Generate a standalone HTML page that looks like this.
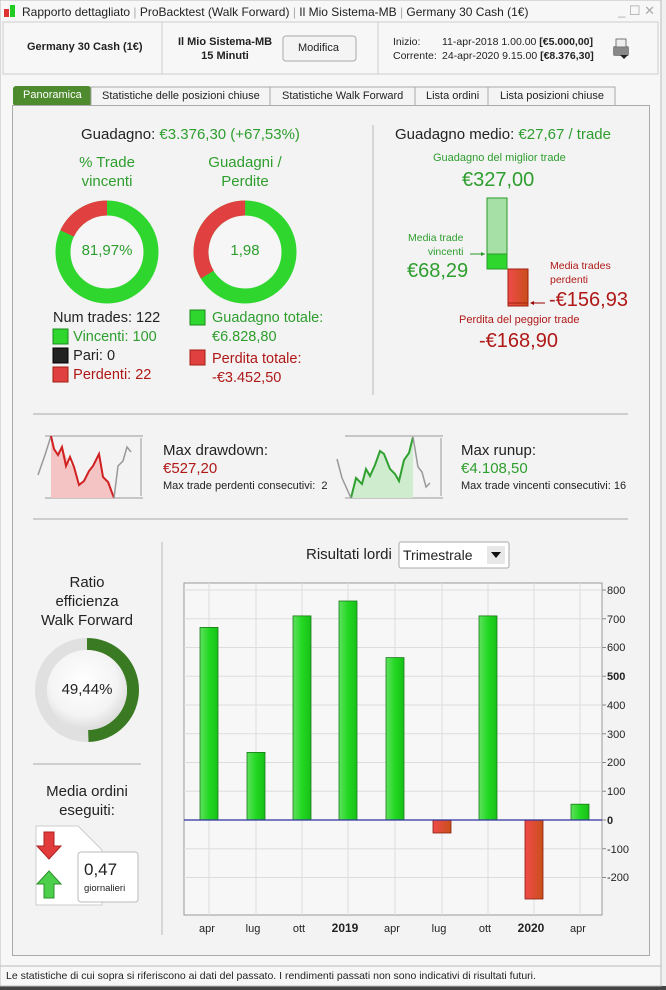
<!DOCTYPE html>
<html><head><meta charset="utf-8">
<style>
*{margin:0;padding:0;box-sizing:border-box}
body{width:666px;height:990px;background:#f0f0f0;font-family:"Liberation Sans",sans-serif;position:relative;overflow:hidden;color:#222}
.a{position:absolute;white-space:nowrap}
.c{text-align:center}
.g{color:#2e9e2e}.r{color:#b01818}
svg{position:absolute;left:0;top:0}
</style></head><body>
<svg width="666" height="990" viewBox="0 0 666 990">
<defs>
<linearGradient id="gb" x1="0" x2="1"><stop offset="0" stop-color="#5fe05f"/><stop offset="0.5" stop-color="#22d822"/><stop offset="1" stop-color="#18c018"/></linearGradient>
<linearGradient id="rb" x1="0" x2="1"><stop offset="0" stop-color="#f04a4a"/><stop offset="1" stop-color="#c8501a"/></linearGradient>
<radialGradient id="wf" cx="0.45" cy="0.4" r="0.6"><stop offset="0" stop-color="#fff"/><stop offset="0.7" stop-color="#f4f4f4"/><stop offset="1" stop-color="#ddd"/></radialGradient>
</defs>
<rect x="0" y="0" width="666" height="990" fill="#f0f0f0"/>
<rect x="0" y="0" width="661" height="986" fill="#f7f7f7" stroke="#bbb"/>
<rect x="0" y="986" width="666" height="4" fill="#444"/>
<rect x="4" y="9" width="5" height="8" fill="#d33"/><rect x="10" y="5" width="5" height="12" fill="#2c2"/>
<rect x="3" y="22" width="655" height="52" fill="#f7f7f7" stroke="#ccc"/>
<line x1="162" y1="22" x2="162" y2="74" stroke="#ccc"/>
<line x1="378" y1="22" x2="378" y2="74" stroke="#ccc"/>
<rect x="283" y="36" width="73" height="25" rx="3" fill="#f4f4f4" stroke="#aaa"/>
<rect x="613" y="46" width="16" height="10" rx="2" fill="#888"/><rect x="616" y="39" width="10" height="8" fill="#eee" stroke="#777"/><path d="M620 55h8l-4 4z" fill="#222"/>
<rect x="13" y="86" width="78" height="20" rx="3" fill="#4e8a2e"/>
<rect x="91" y="87" width="179" height="19" fill="#f4f4f4" stroke="#aaa"/>
<rect x="270" y="87" width="145" height="19" fill="#f4f4f4" stroke="#aaa"/>
<rect x="415" y="87" width="73" height="19" fill="#f4f4f4" stroke="#aaa"/>
<rect x="488" y="87" width="127" height="19" fill="#f4f4f4" stroke="#aaa"/>
<rect x="12.5" y="105.5" width="637" height="850" fill="#f3f3f3" stroke="#aaa"/>
<line x1="373" y1="125" x2="373" y2="395" stroke="#bbb"/>
<line x1="33" y1="414" x2="628" y2="414" stroke="#aaa"/>
<line x1="33" y1="519" x2="628" y2="519" stroke="#aaa"/>
<line x1="162" y1="542" x2="162" y2="935" stroke="#bbb"/>
<line x1="33" y1="764" x2="141" y2="764" stroke="#aaa"/>
<rect x="0" y="966" width="661" height="20" fill="#f7f7f7" stroke="#bbb"/>
<circle cx="107" cy="252" r="44" fill="none" stroke="#2ed62e" stroke-width="15"/>
<circle cx="107" cy="252" r="44" fill="none" stroke="#e04040" stroke-width="15" stroke-dasharray="49.8 300" transform="rotate(-155 107 252)"/>
<circle cx="107" cy="252" r="36" fill="#f6f6f6"/>
<circle cx="245" cy="252" r="44" fill="none" stroke="#2ed62e" stroke-width="15"/>
<circle cx="245" cy="252" r="44" fill="none" stroke="#e04040" stroke-width="15" stroke-dasharray="92.9 300" transform="rotate(-211 245 252)"/>
<circle cx="245" cy="252" r="36" fill="#f6f6f6"/>
<rect x="53" y="329" width="15" height="15" fill="#2ed62e" stroke="#1a8a1a"/>
<rect x="53" y="348" width="15" height="15" fill="#222" stroke="#000"/>
<rect x="53" y="367" width="15" height="15" fill="#e04040" stroke="#a02010"/>
<rect x="190" y="310" width="15" height="15" fill="#2ed62e" stroke="#1a8a1a"/>
<rect x="190" y="350" width="15" height="15" fill="#e04040" stroke="#a02010"/>
<rect x="487" y="198" width="20" height="71" fill="#a6e0a6" stroke="#2a9a2a"/>
<rect x="487" y="254" width="20" height="15" fill="#2ed62e" stroke="#2a9a2a"/>
<rect x="508" y="269" width="20" height="37" fill="url(#rb)" stroke="#a02010"/>
<line x1="508" y1="303" x2="528" y2="303" stroke="#a02010"/>
<line x1="470" y1="254" x2="485" y2="254" stroke="#2a9a2a"/><path d="M485 254l-4-2v4z" fill="#2a9a2a"/>
<line x1="531" y1="303" x2="545" y2="303" stroke="#900"/><path d="M530 303l4-2v4z" fill="#900"/>
<line x1="45" y1="436" x2="143" y2="436" stroke="#999"/><line x1="45" y1="498" x2="143" y2="498" stroke="#999"/>
<line x1="141" y1="438" x2="141" y2="496" stroke="#999"/>
<polygon points="51,436 51,498 114,498 114,498 110,482 104,477 100,453 93,466 89,471 84,481 78,485 73,467 68,461 62,447 58,455 54,449" fill="#f4c4c4"/>
<polyline points="38,475 45,455 51,436" fill="none" stroke="#999" stroke-width="1.5"/>
<polyline points="51,436 54,449 58,455 62,447 66,466 70,457 74,467 79,485 84,481 89,471 93,466 99,454 103,477 108,482 114,498" fill="none" stroke="#d02020" stroke-width="2"/>
<polyline points="114,498 118,466 123,461 127,447 131,452" fill="none" stroke="#999" stroke-width="1.5"/>
<line x1="345" y1="436" x2="443" y2="436" stroke="#999"/><line x1="345" y1="498" x2="443" y2="498" stroke="#999"/>
<line x1="441" y1="438" x2="441" y2="496" stroke="#999"/>
<polygon points="351,498 356,478 362,484 366,469 370,476 375,465 380,451 384,454 390,469 395,474 399,481 404,460 409,453 413,437 413,498" fill="#cfeccf"/>
<polyline points="351,498 356,478 362,484 366,469 370,476 375,465 380,451 384,454 390,469 395,474 399,481 404,460 409,453 413,437" fill="none" stroke="#30a030" stroke-width="2"/>
<polyline points="337,459 342,478 351,498" fill="none" stroke="#999" stroke-width="1.5"/>
<polyline points="413,437 418,467 422,472 426,487 430,483" fill="none" stroke="#999" stroke-width="1.5"/>
<circle cx="87" cy="690" r="46" fill="none" stroke="#e0e0e0" stroke-width="12"/>
<circle cx="87" cy="690" r="46" fill="none" stroke="#3a7a22" stroke-width="12" stroke-dasharray="142.9 300" transform="rotate(-90 87 690)"/>
<circle cx="87" cy="690" r="40" fill="url(#wf)"/>
<path d="M36 826h42l24 24v55h-66z" fill="#fff" stroke="#ccc"/>
<path d="M44 832h10v14h7l-12 13l-12-13h7z" fill="#e23b3b" stroke="#b02020"/>
<path d="M49 871l12 13h-7v14h-10v-14h-7z" fill="#4cd04c" stroke="#2a902a"/>
<rect x="78" y="852" width="60" height="50" rx="3" fill="#fff" stroke="#bbb"/>
<rect x="399" y="542" width="110" height="26" rx="2" fill="#fff" stroke="#aaa"/>
<rect x="487" y="546" width="18" height="18" fill="#e8e8e8"/><path d="M491 552h10l-5 6z" fill="#111"/>
<rect x="184" y="583" width="418" height="332" fill="#f7f7f7" stroke="#999"/>
<g stroke="#ddd">
<line x1="209" y1="583" x2="209" y2="915"/><line x1="256" y1="583" x2="256" y2="915"/><line x1="302" y1="583" x2="302" y2="915"/><line x1="348" y1="583" x2="348" y2="915"/><line x1="395" y1="583" x2="395" y2="915"/><line x1="442" y1="583" x2="442" y2="915"/><line x1="488" y1="583" x2="488" y2="915"/><line x1="534" y1="583" x2="534" y2="915"/><line x1="580" y1="583" x2="580" y2="915"/>
<line x1="184" y1="590" x2="602" y2="590"/><line x1="184" y1="618.75" x2="602" y2="618.75"/><line x1="184" y1="647.5" x2="602" y2="647.5"/><line x1="184" y1="676.25" x2="602" y2="676.25"/><line x1="184" y1="705" x2="602" y2="705"/><line x1="184" y1="733.75" x2="602" y2="733.75"/><line x1="184" y1="762.5" x2="602" y2="762.5"/><line x1="184" y1="791.25" x2="602" y2="791.25"/><line x1="184" y1="848.75" x2="602" y2="848.75"/><line x1="184" y1="877.5" x2="602" y2="877.5"/>
</g>
<g stroke="#1a7a1a" stroke-width="0.8" fill="url(#gb)">
<rect x="200" y="627.4" width="18" height="192.6"/>
<rect x="247" y="752.4" width="18" height="67.6"/>
<rect x="293" y="615.9" width="18" height="204.1"/>
<rect x="339" y="601" width="18" height="219"/>
<rect x="386" y="657.6" width="18" height="162.4"/>
<rect x="479" y="615.9" width="18" height="204.1"/>
<rect x="571" y="804.2" width="18" height="15.8"/>
</g>
<g stroke="#8a2010" stroke-width="0.8" fill="url(#rb)">
<rect x="433" y="820" width="18" height="13"/>
<rect x="525" y="820" width="18" height="79"/>
</g>
<line x1="184" y1="820" x2="602" y2="820" stroke="#3030a0" stroke-width="1.2"/>
<g stroke="#888"><line x1="602" y1="590" x2="606" y2="590"/><line x1="602" y1="618.75" x2="606" y2="618.75"/><line x1="602" y1="647.5" x2="606" y2="647.5"/><line x1="602" y1="676.25" x2="606" y2="676.25"/><line x1="602" y1="705" x2="606" y2="705"/><line x1="602" y1="733.75" x2="606" y2="733.75"/><line x1="602" y1="762.5" x2="606" y2="762.5"/><line x1="602" y1="791.25" x2="606" y2="791.25"/><line x1="602" y1="820" x2="606" y2="820"/><line x1="602" y1="848.75" x2="606" y2="848.75"/><line x1="602" y1="877.5" x2="606" y2="877.5"/></g>
<g font-family="Liberation Sans,sans-serif" font-size="11" fill="#222">
<text x="607" y="594">800</text><text x="607" y="623">700</text><text x="607" y="651">600</text><text x="607" y="680" font-weight="bold">500</text><text x="607" y="709">400</text><text x="607" y="738">300</text><text x="607" y="766">200</text><text x="607" y="795">100</text><text x="607" y="824" font-weight="bold">0</text><text x="607" y="853">-100</text><text x="607" y="881">-200</text>
<g text-anchor="middle"><text x="207" y="932">apr</text><text x="253" y="932">lug</text><text x="299" y="932">ott</text><text x="345" y="932" font-weight="bold" font-size="12">2019</text><text x="392" y="932">apr</text><text x="439" y="932">lug</text><text x="485" y="932">ott</text><text x="531" y="932" font-weight="bold" font-size="12">2020</text><text x="578" y="932">apr</text></g>
</g>
</svg>

<div class="a" style="left:22px;top:5px;font-size:12px">Rapporto dettagliato <span style="color:#aaa">|</span> ProBacktest (Walk Forward) <span style="color:#aaa">|</span> Il Mio Sistema-MB <span style="color:#aaa">|</span> Germany 30 Cash (1€)</div>
<div class="a" style="left:618px;top:3px;font-size:13px;color:#aaa">_ ☐ ✕</div>
<div class="a" style="left:27px;top:41px;font-size:11px;font-weight:bold">Germany 30 Cash (1€)</div>
<div class="a c" style="left:170px;top:35px;width:110px;font-size:11px;font-weight:bold;line-height:14px">Il Mio Sistema-MB<br>15 Minuti</div>
<div class="a" style="left:298px;top:42px;font-size:11px">Modifica</div>
<div class="a" style="left:393px;top:35px;font-size:10.5px;line-height:14px">Inizio:<br>Corrente:</div>
<div class="a" style="left:442px;top:35px;font-size:10.5px;line-height:14px">11-apr-2018 1.00.00 <b>[€5.000,00]</b><br>24-apr-2020 9.15.00 <b>[€8.376,30]</b></div>

<div class="a" style="left:23px;top:89px;font-size:11px;color:#fff">Panoramica</div>
<div class="a" style="left:102px;top:90px;font-size:11px">Statistiche delle posizioni chiuse</div>
<div class="a" style="left:282px;top:90px;font-size:11px">Statistiche Walk Forward</div>
<div class="a" style="left:426px;top:90px;font-size:11px">Lista ordini</div>
<div class="a" style="left:500px;top:90px;font-size:11px">Lista posizioni chiuse</div>

<div class="a" style="left:81px;top:126px;font-size:15px">Guadagno: <span class="g">€3.376,30 (+67,53%)</span></div>
<div class="a c g" style="left:57px;top:153px;width:100px;font-size:15px;line-height:19px">% Trade<br>vincenti</div>
<div class="a c g" style="left:195px;top:153px;width:100px;font-size:15px;line-height:19px">Guadagni /<br>Perdite</div>
<div class="a c g" style="left:67px;top:242px;width:80px;font-size:15px">81,97%</div>
<div class="a c g" style="left:205px;top:242px;width:80px;font-size:15px">1,98</div>
<div class="a" style="left:53px;top:309px;font-size:14.5px;line-height:19px">Num trades: 122<br>&nbsp;&nbsp;&nbsp;&nbsp;&nbsp;<span class="g">Vincenti: 100</span><br>&nbsp;&nbsp;&nbsp;&nbsp;&nbsp;Pari: 0<br>&nbsp;&nbsp;&nbsp;&nbsp;&nbsp;<span class="r">Perdenti: 22</span></div>
<div class="a g" style="left:212px;top:309px;font-size:14.5px;line-height:19px">Guadagno totale:<br>€6.828,80</div>
<div class="a r" style="left:212px;top:350px;font-size:14.5px;line-height:19px">Perdita totale:<br>-€3.452,50</div>

<div class="a" style="left:395px;top:126px;font-size:15px">Guadagno medio: <span class="g">€27,67 / trade</span></div>
<div class="a g" style="left:433px;top:152px;font-size:11px">Guadagno del miglior trade</div>
<div class="a g" style="left:462px;top:169px;font-size:20px">€327,00</div>
<div class="a g" style="left:408px;top:231px;font-size:10.5px;line-height:14px;text-align:right">Media trade<br>vincenti</div>
<div class="a g" style="left:407px;top:260px;font-size:20px">€68,29</div>
<div class="a r" style="left:550px;top:259px;font-size:10.5px;line-height:14px">Media trades<br>perdenti</div>
<div class="a r" style="left:549px;top:289px;font-size:20px">-€156,93</div>
<div class="a r" style="left:459px;top:314px;font-size:11px">Perdita del peggior trade</div>
<div class="a r" style="left:479px;top:330px;font-size:20px">-€168,90</div>

<div class="a" style="left:163px;top:442px;font-size:15px">Max drawdown:</div>
<div class="a r" style="left:163px;top:460px;font-size:15px">€527,20</div>
<div class="a" style="left:163px;top:480px;font-size:11px">Max trade perdenti consecutivi:&nbsp; 2</div>
<div class="a" style="left:461px;top:442px;font-size:15px">Max runup:</div>
<div class="a g" style="left:461px;top:460px;font-size:15px">€4.108,50</div>
<div class="a" style="left:461px;top:480px;font-size:11px">Max trade vincenti consecutivi: 16</div>

<div class="a c" style="left:22px;top:573px;width:130px;font-size:15px;line-height:19px">Ratio<br>efficienza<br>Walk Forward</div>
<div class="a c" style="left:47px;top:681px;width:80px;font-size:15px">49,44%</div>
<div class="a c" style="left:22px;top:782px;width:130px;font-size:15px;line-height:19px">Media ordini<br>eseguiti:</div>
<div class="a" style="left:84px;top:860px;font-size:17px">0,47</div>
<div class="a" style="left:84px;top:883px;font-size:9.5px">giornalieri</div>

<div class="a" style="left:306px;top:546px;font-size:15px">Risultati lordi</div>
<div class="a" style="left:403px;top:547px;font-size:14px">Trimestrale</div>

<div class="a" style="left:6px;top:970px;font-size:10.5px">Le statistiche di cui sopra si riferiscono ai dati del passato. I rendimenti passati non sono indicativi di risultati futuri.</div>
</body></html>
